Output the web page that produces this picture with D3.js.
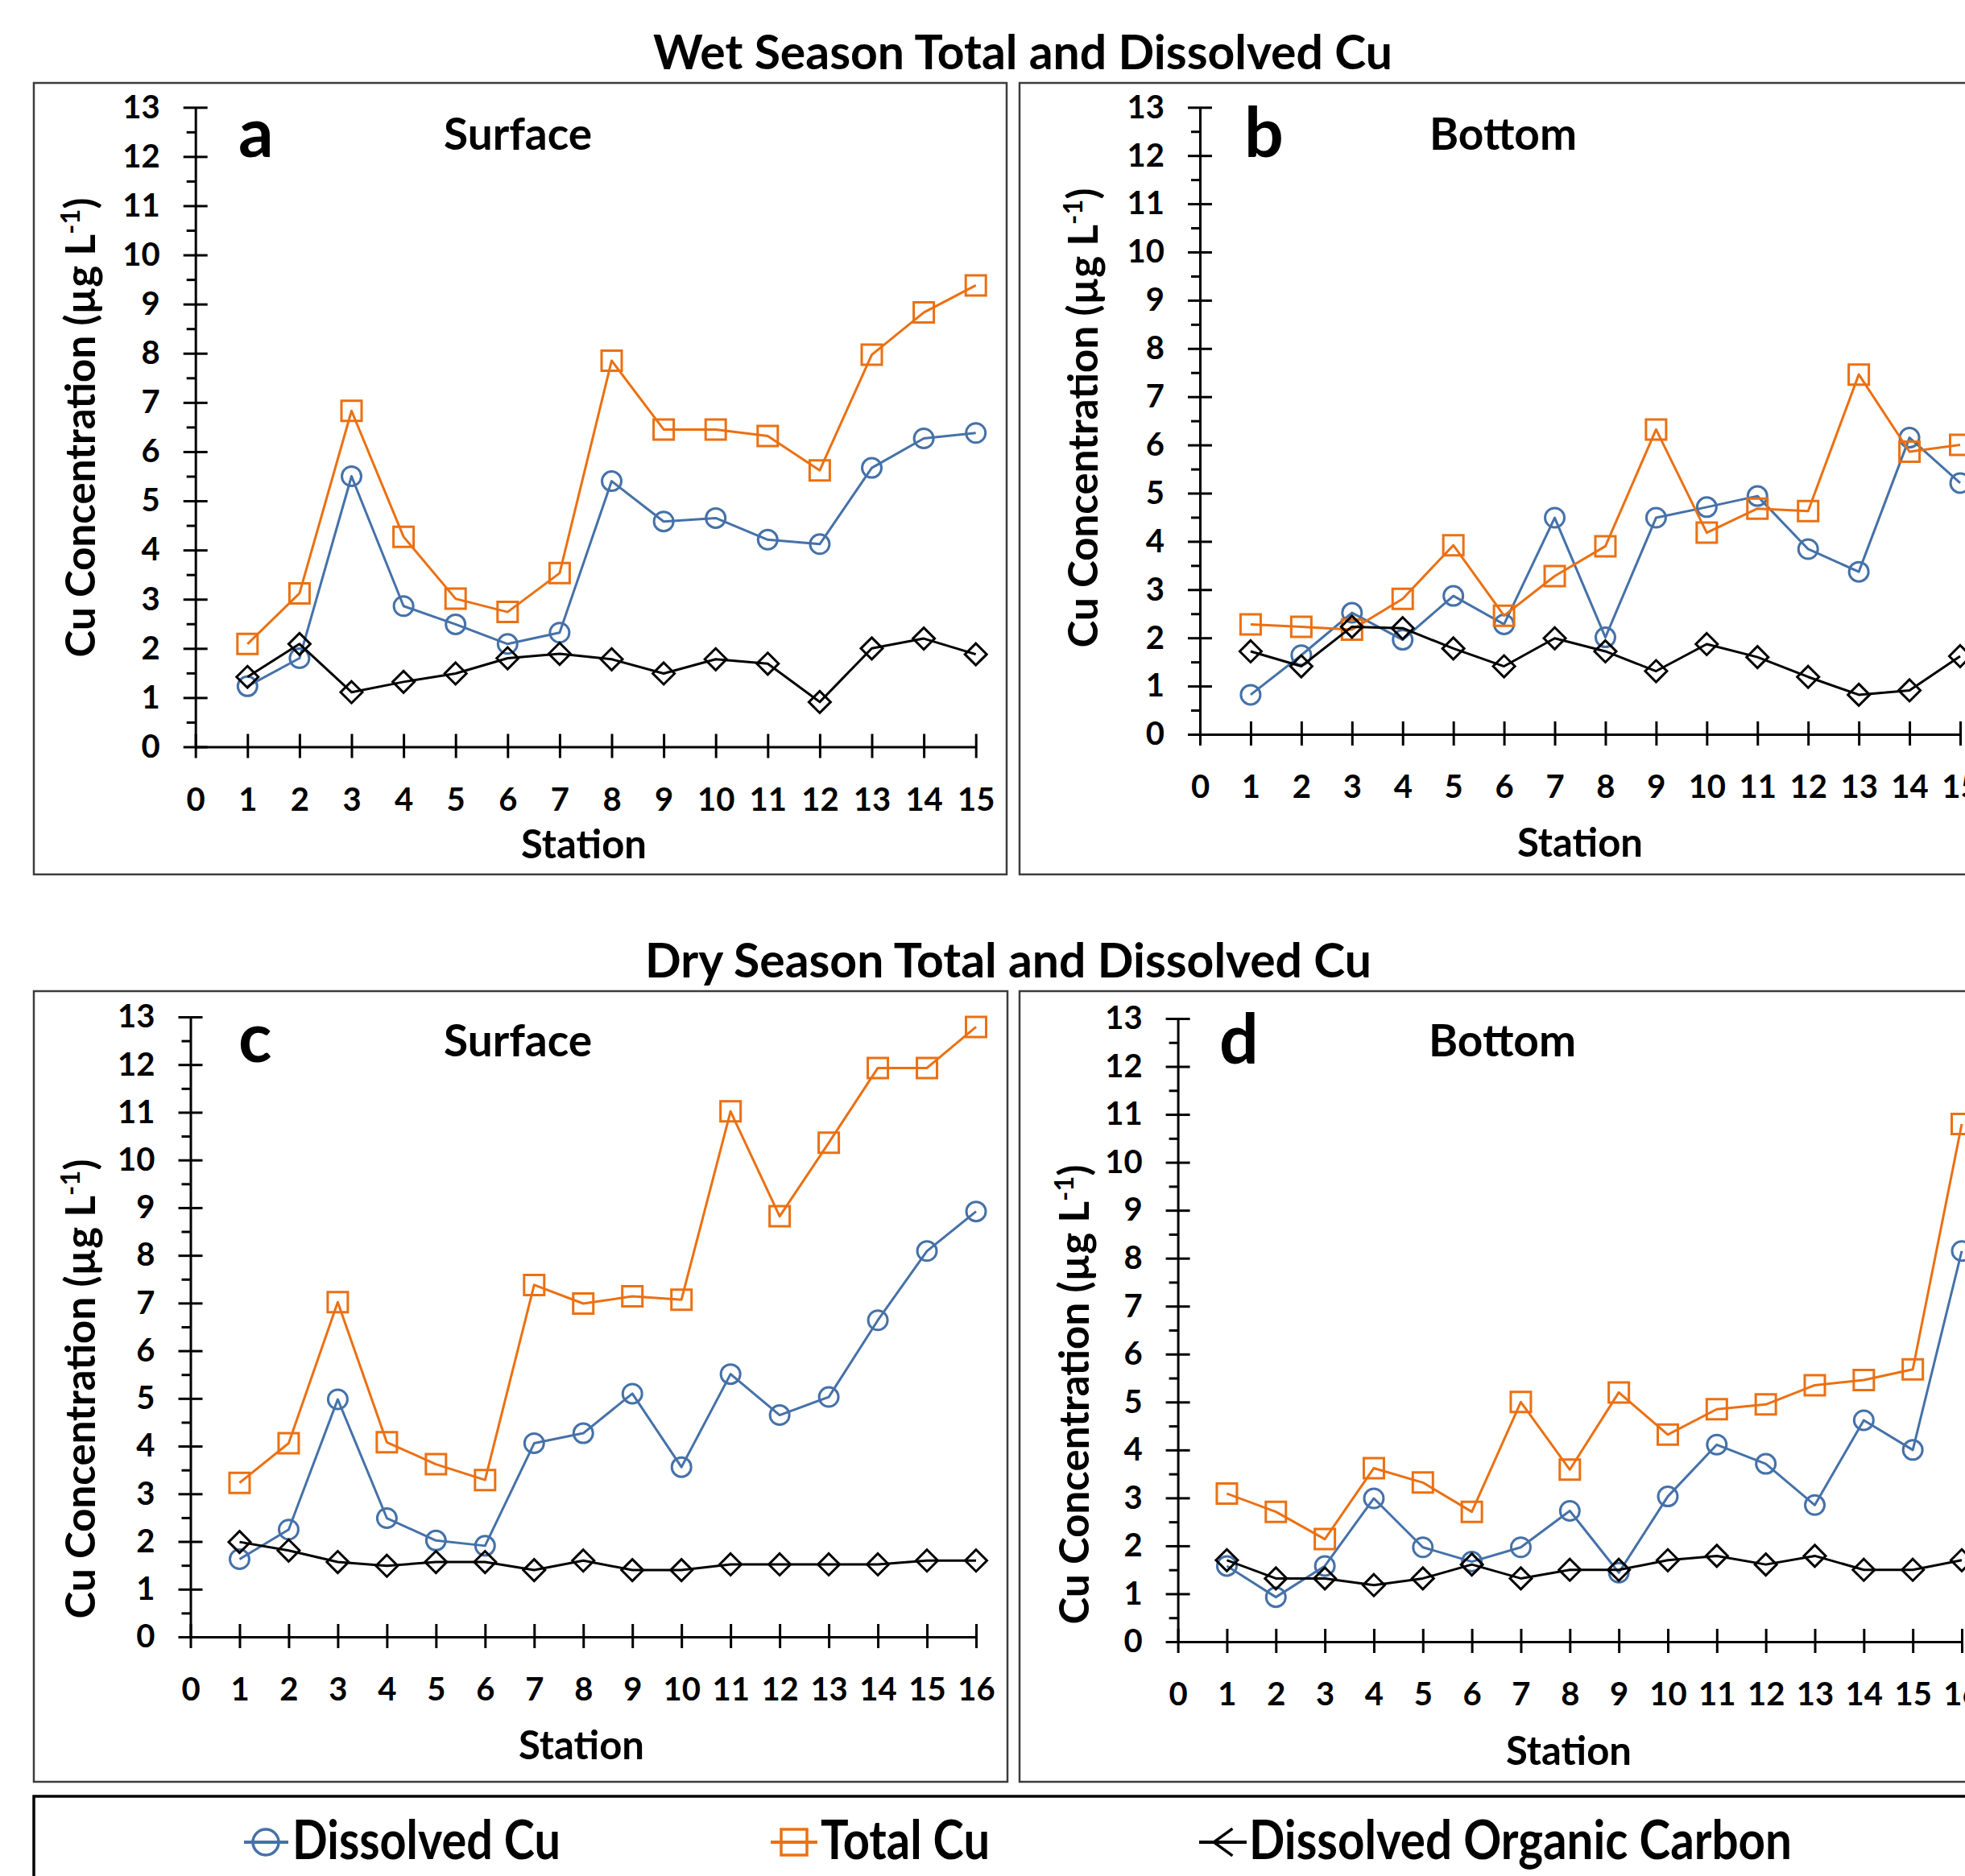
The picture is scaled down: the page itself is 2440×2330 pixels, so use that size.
<!DOCTYPE html>
<html>
<head>
<meta charset="utf-8">
<script src="https://cdn.jsdelivr.net/npm/d3@7"></script>
<style>
  html, body { margin: 0; padding: 0; background: #fff; }
  svg { display: block; }
  text { font-family: Lato, "Open Sans", sans-serif; font-weight: 700; fill: #000; }
</style>
</head>
<body>
<svg id="chart" width="2440" height="2330"></svg>
<script>
// ---- data -------------------------------------------------------------
const stationsWet = [1, 2, 3, 4, 5, 6, 7, 8, 9, 10, 11, 12, 13, 14, 15];
const stationsDry = [1, 2, 3, 4, 5, 6, 7, 8, 9, 10, 11, 12, 13, 14, 15, 16];

const xTicksWet = [0, 1, 2, 3, 4, 5, 6, 7, 8, 9, 10, 11, 12, 13, 14, 15];
const xTicksDry = [0, 1, 2, 3, 4, 5, 6, 7, 8, 9, 10, 11, 12, 13, 14, 15, 16];
const yTicks = [0, 1, 2, 3, 4, 5, 6, 7, 8, 9, 10, 11, 12, 13];
const yMinorTicks = [0.5, 1.5, 2.5, 3.5, 4.5, 5.5, 6.5, 7.5, 8.5, 9.5, 10.5, 11.5, 12.5];

// Wet season, surface (µg/L)
const wetSurfaceDissolved = [1.23, 1.80, 5.50, 2.86, 2.49, 2.09, 2.32, 5.40, 4.58, 4.65, 4.21, 4.12, 5.67, 6.27, 6.38];
const wetSurfaceTotal     = [2.09, 3.12, 6.83, 4.27, 3.01, 2.74, 3.53, 7.85, 6.45, 6.45, 6.32, 5.62, 7.97, 8.83, 9.38];
const wetSurfaceDOC       = [1.42, 2.09, 1.11, 1.32, 1.49, 1.80, 1.89, 1.78, 1.49, 1.78, 1.69, 0.91, 2.00, 2.20, 1.88];

// Wet season, bottom
const wetBottomDissolved = [0.82, 1.64, 2.52, 1.96, 2.87, 2.28, 4.49, 2.01, 4.49, 4.71, 4.94, 3.84, 3.37, 6.15, 5.21];
const wetBottomTotal     = [2.28, 2.23, 2.17, 2.81, 3.92, 2.46, 3.28, 3.90, 6.32, 4.18, 4.68, 4.63, 7.46, 5.86, 6.00];
const wetBottomDOC       = [1.72, 1.41, 2.23, 2.20, 1.78, 1.41, 1.99, 1.72, 1.31, 1.87, 1.60, 1.19, 0.82, 0.91, 1.62];

// Dry season, surface
const drySurfaceDissolved = [1.63, 2.25, 4.98, 2.49, 2.02, 1.91, 4.06, 4.27, 5.10, 3.56, 5.51, 4.65, 5.03, 6.64, 8.09, 8.92];
const drySurfaceTotal     = [3.23, 4.06, 7.02, 4.08, 3.62, 3.29, 7.38, 6.99, 7.14, 7.07, 11.02, 8.82, 10.36, 11.93, 11.93, 12.79];
const drySurfaceDOC       = [1.99, 1.81, 1.57, 1.49, 1.57, 1.57, 1.40, 1.60, 1.40, 1.40, 1.52, 1.52, 1.52, 1.52, 1.60, 1.60];

// Dry season, bottom
const dryBottomDissolved = [1.58, 0.93, 1.58, 2.99, 1.97, 1.67, 1.97, 2.73, 1.44, 3.03, 4.11, 3.71, 2.85, 4.62, 4.00, 8.15];
const dryBottomTotal     = [3.09, 2.71, 2.14, 3.62, 3.32, 2.71, 5.00, 3.59, 5.20, 4.32, 4.85, 4.95, 5.35, 5.46, 5.68, 10.80];
const dryBottomDOC       = [1.70, 1.32, 1.32, 1.18, 1.32, 1.61, 1.32, 1.50, 1.50, 1.70, 1.79, 1.61, 1.79, 1.50, 1.50, 1.70];

const sectionTitles = ["Wet Season Total and Dissolved Cu", "Dry Season Total and Dissolved Cu"];
const seriesNames = ["Dissolved Cu", "Total Cu", "Dissolved Organic Carbon"];
const xAxisTitle = "Station";

// ---- styles -----------------------------------------------------------
const BLUE = "#4571a8", ORANGE = "#eb7012", BLACK = "#000";
const seriesStyle = [
  { color: BLUE,   symbol: "circle"  },
  { color: ORANGE, symbol: "square"  },
  { color: BLACK,  symbol: "diamond" }
];

function markerPath(kind, s) {
  if (kind === "circle") return d3.symbol(d3.symbolCircle, Math.PI * s * s)();
  if (kind === "square") return `M${-s},${-s}H${s}V${s}H${-s}Z`;
  if (kind === "chevron") return `M${s * 0.9},${-s * 1.05}L${-s * 0.55},0L${s * 0.9},${s * 1.05}`;
  return `M0,${-s * 1.08}L${s * 1.08},0L0,${s * 1.08}L${-s * 1.08},0Z`;
}

const svg = d3.select("#chart");
svg.append("rect").attr("width", 2440).attr("height", 2330).attr("fill", "#fff");

// ---- section titles ---------------------------------------------------
svg.append("text").attr("x", 1270).attr("y", 86).attr("text-anchor", "middle")
  .attr("font-size", 59).attr("textLength", 918).attr("lengthAdjust", "spacingAndGlyphs")
  .text(sectionTitles[0]);
svg.append("text").attr("x", 1252).attr("y", 1214).attr("text-anchor", "middle")
  .attr("font-size", 59).attr("textLength", 902).attr("lengthAdjust", "spacingAndGlyphs")
  .text(sectionTitles[1]);

// ---- panels -----------------------------------------------------------
const panels = [
  { letter: "a", label: "Surface", stations: stationsWet, xTicks: xTicksWet,
    series: [wetSurfaceDissolved, wetSurfaceTotal, wetSurfaceDOC],
    box: [42, 103, 1250, 1086], xr: [242.7, 1211.7], yr: [927.5, 133.3],
    letterPos: [296, 195], labelPos: [551, 186], stationPos: [725, 1066], yTitlePos: [118, 531] },
  { letter: "b", label: "Bottom", stations: stationsWet, xTicks: xTicksWet,
    series: [wetBottomDissolved, wetBottomTotal, wetBottomDOC],
    box: [1266, 103, 2470, 1086], xr: [1490, 2434], yr: [912, 133.3],
    letterPos: [1545, 195], labelPos: [1775, 186], stationPos: [1962, 1064], yTitlePos: [1363, 519] },
  { letter: "c", label: "Surface", stations: stationsDry, xTicks: xTicksDry,
    series: [drySurfaceDissolved, drySurfaceTotal, drySurfaceDOC],
    box: [42, 1231, 1251, 2213], xr: [236.5, 1212], yr: [2033, 1263],
    letterPos: [296, 1319], labelPos: [551, 1312], stationPos: [722, 2185], yTitlePos: [118, 1725] },
  { letter: "d", label: "Bottom", stations: stationsDry, xTicks: xTicksDry,
    series: [dryBottomDissolved, dryBottomTotal, dryBottomDOC],
    box: [1266, 1231, 2470, 2213], xr: [1462.6, 2436], yr: [2039, 1265],
    letterPos: [1514, 1321], labelPos: [1774, 1312], stationPos: [1948, 2192], yTitlePos: [1352, 1732] }
];

function styleAxis(sel) {
  sel.attr("font-size", 40).attr("font-family", "Lato, 'Open Sans', sans-serif").attr("font-weight", 700);
  sel.selectAll(".domain, .tick line").attr("stroke", "#000").attr("stroke-width", 3);
  sel.selectAll(".tick text").attr("fill", "#000");
}

panels.forEach(p => {
  const g = svg.append("g");

  g.append("rect")
    .attr("x", p.box[0]).attr("y", p.box[1])
    .attr("width", p.box[2] - p.box[0]).attr("height", p.box[3] - p.box[1])
    .attr("fill", "none").attr("stroke", "#3c3c3c").attr("stroke-width", 2.5);

  const xMax = p.xTicks[p.xTicks.length - 1];
  const x = d3.scaleLinear().domain([0, xMax]).range(p.xr);
  const y = d3.scaleLinear().domain([0, 13]).range(p.yr);

  // minor y ticks (outside only)
  const minor = g.append("g").attr("transform", `translate(${p.xr[0]},0)`)
    .call(d3.axisLeft(y).tickValues(yMinorTicks).tickSize(11).tickSizeOuter(0).tickFormat(""));
  minor.select(".domain").remove();
  styleAxis(minor);

  // major y ticks cross the axis line
  const ya = g.append("g").attr("transform", `translate(${p.xr[0]},0)`)
    .call(d3.axisLeft(y).tickValues(yTicks).tickSize(15).tickPadding(29).tickSizeOuter(0));
  ya.selectAll(".tick line").attr("x1", 15);
  styleAxis(ya);

  // x axis with crossing ticks
  const xa = g.append("g").attr("transform", `translate(0,${p.yr[0]})`)
    .call(d3.axisBottom(x).tickValues(p.xTicks).tickSize(14).tickSizeOuter(0));
  xa.selectAll(".tick line").attr("y1", -16);
  xa.selectAll(".tick text").attr("y", 65).attr("dy", "0.35em");
  styleAxis(xa);

  // series lines and hollow markers
  p.series.forEach((vals, si) => {
    const st = seriesStyle[si];
    const line = d3.line().x((d, i) => x(p.stations[i])).y(d => y(d));
    g.append("path").datum(vals).attr("d", line)
      .attr("fill", "none").attr("stroke", st.color).attr("stroke-width", 3)
      .attr("stroke-linejoin", "round");
    g.selectAll(null).data(vals).join("path")
      .attr("transform", (d, i) => `translate(${x(p.stations[i])},${y(d)})`)
      .attr("d", markerPath(st.symbol, st.symbol === "circle" ? 12 : 12.5))
      .attr("fill", "none").attr("stroke", st.color).attr("stroke-width", 3);
  });

  // panel letter and position label
  g.append("text").attr("x", p.letterPos[0]).attr("y", p.letterPos[1])
    .attr("font-size", 86).text(p.letter);
  g.append("text").attr("x", p.labelPos[0]).attr("y", p.labelPos[1])
    .attr("font-size", 55).text(p.label);

  // axis titles
  g.append("text").attr("x", p.stationPos[0]).attr("y", p.stationPos[1])
    .attr("text-anchor", "middle").attr("font-size", 49).text(xAxisTitle);

  const yt = g.append("text")
    .attr("transform", `translate(${p.yTitlePos[0]},${p.yTitlePos[1]}) rotate(-90)`)
    .attr("text-anchor", "middle").attr("font-size", 51);
  yt.append("tspan").text("Cu Concentration (µg L");
  yt.append("tspan").attr("dy", -19).attr("font-size", 33).text("-1");
  yt.append("tspan").attr("dy", 19).text(")");
});

// ---- legend -----------------------------------------------------------
svg.append("rect").attr("x", 42).attr("y", 2231).attr("width", 2440).attr("height", 200)
  .attr("fill", "none").attr("stroke", "#000").attr("stroke-width", 3.5);

const legendY = 2288;
const legendItems = [
  { line: [303, 358], mark: 330, symbol: "circle", text: [363, 333] },
  { line: [957, 1015], mark: 986, symbol: "square", text: [1019, 210] },
  { line: [1489, 1548], mark: 1516, symbol: "chevron", text: [1551, 674] }
];
legendItems.forEach((it, i) => {
  const st = seriesStyle[i];
  svg.append("line").attr("x1", it.line[0]).attr("x2", it.line[1])
    .attr("y1", legendY).attr("y2", legendY)
    .attr("stroke", st.color).attr("stroke-width", 4);
  svg.append("path").attr("transform", `translate(${it.mark},${legendY})`)
    .attr("d", markerPath(it.symbol, 16))
    .attr("fill", "none").attr("stroke", st.color).attr("stroke-width", 3.5);
  svg.append("text").attr("x", it.text[0]).attr("y", 2309)
    .attr("font-size", 66).attr("textLength", it.text[1]).attr("lengthAdjust", "spacingAndGlyphs")
    .text(seriesNames[i]);
});
</script>
</body>
</html>
